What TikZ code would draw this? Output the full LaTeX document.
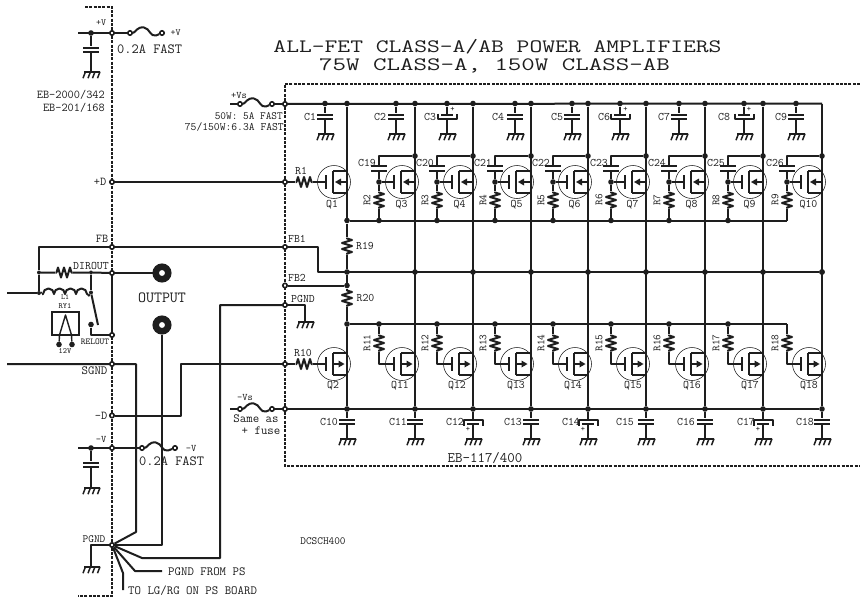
\documentclass[tikz,border=0pt]{standalone}
\definecolor{ink}{HTML}{1E1E1E}
\newcommand\sz[1]{\ttfamily\fontsize{#1}{#1}\selectfont}
\tikzset{
  wire/.style={draw=ink,line width=2pt,line join=round},
  thinw/.style={draw=ink,line width=1.5pt,line join=round},
  frame/.style={draw=ink,line width=1.15pt,dash pattern=on 3pt off 1.3pt},
  jdot/.style={circle,fill=ink,inner sep=0pt,minimum size=5.6pt},
  ring/.style={circle,draw=ink,line width=1.6pt,fill=white,inner sep=0pt,minimum size=4.4pt},
  donut/.style={circle,draw=ink,line width=6.5pt,fill=white,inner sep=0pt,minimum size=12.5pt},
  fetc/.style={circle,draw=ink,line width=.55pt,inner sep=0pt,minimum size=33pt},
  tx/.style={inner sep=0pt,text=ink,font=\sz{#1}},
  tx/.default=10,
  resv/.style={inner sep=0pt,minimum width=15pt,minimum height=17pt,path picture={
    \draw[wire,shift={(path picture bounding box.center)}] (0,-8.5)--(0,-7.5)--(5,-6)--(-5,-3)--(5,0)--(-5,3)--(5,6)--(0,7.5)--(0,8.5);}},
  resh/.style={inner sep=0pt,minimum width=17pt,minimum height=15pt,path picture={
    \draw[wire,shift={(path picture bounding box.center)}] (-8.5,0)--(-7.5,0)--(-6,-5)--(-3,5)--(0,-5)--(3,5)--(6,-5)--(7.5,0)--(8.5,0);}},
  capv/.style={inner sep=0pt,minimum width=20pt,minimum height=7pt,path picture={
    \begin{scope}[shift={(path picture bounding box.center)}]
    \draw[wire] (-8,-2.2)--(8,-2.2) (-8,2.2)--(8,2.2) (0,-3.5)--(0,-2.2) (0,2.2)--(0,3.5);
    \end{scope}}},
  polu/.style={inner sep=0pt,minimum width=24pt,minimum height=10pt,path picture={
    \begin{scope}[shift={(path picture bounding box.center)}]
    \draw[wire] (-6,-1.6)--(6,-1.6) (0,-5)--(0,-1.6) (0,2)--(0,5);
    \draw[wire] (-9.5,-3.5)--(-9.5,2)--(9.5,2)--(9.5,-3.5);
    \end{scope}}},
  pold/.style={inner sep=0pt,minimum width=24pt,minimum height=10pt,path picture={
    \begin{scope}[shift={(path picture bounding box.center)}]
    \draw[wire] (-6,1.6)--(6,1.6) (0,5)--(0,1.6) (0,-2)--(0,-5);
    \draw[wire] (-9.5,3.5)--(-9.5,-2)--(9.5,-2)--(9.5,3.5);
    \end{scope}}},
  gndn/.style={anchor=north,inner sep=0pt,minimum width=24pt,minimum height=9pt,path picture={
    \begin{scope}[shift={(path picture bounding box.center)}]
    \draw[wire] (0,-4.5)--(0,-3.2) (-7,-3.2)--(9,-3.2);
    \draw[thinw] (-5.5,-3)--(-8,3.5) (-0.5,-3)--(-3,3.5) (4,-3)--(1.5,3.5) (9,-3)--(6.5,3.5);
    \end{scope}}},
  indn/.style={inner sep=0pt,minimum width=46pt,minimum height=12pt,path picture={
    \begin{scope}[shift={(path picture bounding box.center)}]
    \draw[wire] (-23,4)--(-22,4) arc[start angle=180,end angle=360,radius=5.5] arc[start angle=180,end angle=360,radius=5.5] arc[start angle=180,end angle=360,radius=5.5] arc[start angle=180,end angle=360,radius=5.5]--(23,4);
    \end{scope}}},
}
\newcommand\fusewire[2]{\draw[wire] (#1.east) .. controls ([shift={(6,-1)}]#1.center) and ([shift={(7,-6.5)}]#1.center) .. ([shift={(14,-5.5)}]#1.center) .. controls ([shift={(20,-4.5)}]#1.center) and ([shift={(20,4)}]#1.center) .. ([shift={(26,2.5)}]#1.center) -- (#2);}
% name, cx, cy
\newcommand\fetbody[3]{%
  \node[fetc] (#1) at (#2,#3) {};
  \coordinate (#1g) at (#2-8,#3);
  \coordinate (#1ct) at (#2-1,#3-11);
  \coordinate (#1cb) at (#2-1,#3+11);
  \coordinate (#1dt) at (#2+13,#3-11);
  \coordinate (#1db) at (#2+13,#3+11);
  \coordinate (#1m) at (#2+13,#3);
  \draw[wire] (#2-8,#3-7)--(#2-8,#3+7);
  \draw[wire,line width=2.2pt] (#1ct)--(#1cb);
  \draw[wire] (#1ct)--(#1dt) (#1cb)--(#1db);}
\newcommand\fetN[3]{\fetbody{#1}{#2}{#3}\draw[wire] (#1m)--(#2+5,#3);\fill[ink] (#2+1,#3)--(#2+7,#3-3.5)--(#2+7,#3+3.5)--cycle;}
\newcommand\fetP[3]{\fetbody{#1}{#2}{#3}\draw[wire] (#2-1,#3)--(#2+5,#3);\fill[ink] (#2+10.5,#3)--(#2+4.5,#3-3.5)--(#2+4.5,#3+3.5)--cycle;}
\begin{document}
\begin{tikzpicture}[x=1pt,y=-1pt]
\useasboundingbox (0,0) rectangle (860,597);
\fill[white] (0,0) rectangle (860,597);
% frames
\coordinate (fa) at (85,7); \coordinate (fb) at (112,7); \coordinate (fc) at (112,596); \coordinate (fd) at (78,596);
\draw[frame] (fa)--(fb)--(fc)--(fd);
\coordinate (ga) at (860,84); \coordinate (gb) at (285,84); \coordinate (gc) at (285,466); \coordinate (gd) at (860,466);
\draw[frame] (ga)--(gb)--(gc)--(gd);
% title
\node[tx=22] (title1) at (497.5,46.5) {\scalebox{1.13}[.86]{ALL-FET CLASS-A/AB POWER AMPLIFIERS}};
\node[tx=22] (title2) at (494.5,66) {\scalebox{1.19}[.86]{75W CLASS-A, 150W CLASS-AB}};
\node[tx=14.5] (board) at (485,458) {EB-117/400};
\node[tx=11] (dcs) at (323,541) {DCSCH400};

% ---- terminals on the left frame
\node[ring] (Vp) at (112,33) {};
\node[ring] (Dp) at (112,182) {};
\node[ring] (FB) at (112,247) {};
\node[ring] (DIR) at (112,273) {};
\node[ring] (REL) at (112,335) {};
\node[ring] (SG) at (112,364) {};
\node[ring] (Dm) at (112,415.5) {};
\node[ring] (Vm) at (112,448) {};
\node[ring] (PG) at (112,545) {};
% ---- terminals on the right frame
\node[ring] (sVs) at (285,104) {};
\node[ring] (sD) at (285,182) {};
\node[ring] (sFB1) at (285,247) {};
\node[ring] (sFB2) at (285,285.5) {};
\node[ring] (sPG) at (285,305) {};
\node[ring] (sIn) at (285,364) {};
\node[ring] (sVm) at (285,409) {};
\draw[wire] (DIR)--(REL);

% +V supply
\coordinate (Vl) at (78,33);
\node[jdot] (Vd) at (91,33) {};
\node[ring] (Vf1) at (130,33) {};
\node[ring] (Vf2) at (162,33) {};
\draw[wire] (Vl)--(Vp)--(Vf1);
\fusewire{Vf1}{Vf2}
\node[capv] (Vc) at (91,50) {};
\node[gndn] (Vg) at (91,70) {};
\draw[wire] (Vd)--(Vc)--(Vg);
\node[tx=9.5] (tVa) at (101,23) {+V};
\node[tx=9.5] (tVb) at (175.5,33) {+V};
\node[tx=14,anchor=west] (tVf) at (117,49) {0.2A FAST};
\node[tx=12,anchor=east] (tEa) at (105,95) {EB-2000/342};
\node[tx=12,anchor=east] (tEb) at (105,108) {EB-201/168};

% +Vs fuse
\coordinate (Vsl) at (230,104);
\node[ring] (Vsf1) at (240,104) {};
\node[ring] (Vsf2) at (272,104) {};
\draw[wire] (Vsl)--(Vsf1) (Vsf2)--(sVs);
\fusewire{Vsf1}{Vsf2}
\node[tx=10] (tVs) at (239,95) {+Vs};
\node[tx=11,anchor=east] (tf1) at (283,116) {50W: 5A FAST};
\node[tx=11.3,anchor=east] (tf2) at (284,127) {75/150W:6.3A FAST};

% -Vs fuse
\coordinate (Vml) at (230,409);
\node[ring] (Vmf1) at (240,409) {};
\node[ring] (Vmf2) at (272,409) {};
\draw[wire] (Vml)--(Vmf1) (Vmf2)--(sVm);
\fusewire{Vmf1}{Vmf2}
\node[tx=10] (tVms) at (245,397) {-Vs};
\node[tx=12.5] (tSa) at (256,419) {Same as};
\node[tx=12.5] (tSb) at (261,430.5) {+ fuse};

% left-side labels
\node[tx=12] (tDp) at (100,182) {+D};
\node[tx=12] (tFB) at (102,239) {FB};
\node[tx=11.5] (tDI) at (91,266) {DIROUT};
\node[tx=9] (tRE) at (95,342) {RELOUT};
\node[tx=12.5] (tSG) at (94.5,370.5) {SGND};
\node[tx=12] (tDm) at (101,415.5) {-D};
\node[tx=10] (tVmA) at (101,439) {-V};
\node[tx=10] (tVmB) at (191,448) {-V};
\node[tx=11] (tPG) at (94,539) {PGND};

% FB / output network
\draw[wire] (FB)--(sFB1);
\coordinate (inl) at (7,293);
\coordinate (fbc) at (39,247);
\node[jdot,minimum size=4pt] (n1) at (39,272.5) {};
\node[jdot,minimum size=4pt] (n2) at (39,293) {};
\draw[wire] (FB)--(fbc)--(n1)--(n2)--(inl);
\node[resh] (Rd) at (64,272.5) {};
\node[jdot,minimum size=4pt] (n3) at (91,272.5) {};
\draw[wire] (n1)--(Rd)--(n3)--(DIR);
\node[indn] (L1) at (65,290) {};
\node[jdot,minimum size=4pt] (n4) at (91,292.5) {};
\draw[wire] (n2)--(L1) (L1.south east)--(n4);
\draw[wire] (n3)--(n4);
\node[jdot] (n5) at (91,324.5) {};
\coordinate (n6) at (91,335);
\draw[wire] (n5)--(n6)--(REL);
\coordinate (swe) at (98,325);
\draw[wire] (n4)--(swe);
\node[tx=7.5] (tL1) at (65,297) {L1};
\node[tx=8] (tRY) at (65,306.5) {RY1};
\node[tx=8] (t12) at (65,351) {12V};
\node[draw=ink,line width=1.5pt,inner sep=0pt,minimum width=27pt,minimum height=23pt] (RY) at (65.5,323.5) {};
\node[jdot] (ry1) at (59,344.5) {};
\node[jdot] (ry2) at (72,344.5) {};
\coordinate (ryt) at (65.5,315);
\coordinate (ryl) at (59.5,335);
\coordinate (ryr) at (71.5,335);
\draw[wire,line width=1.4pt] (ry1)--(ryl)--(ryt)--(ryr)--(ry2);
\node[donut] (Out1) at (162,273) {};
\node[donut] (Out2) at (162,325) {};
\draw[wire] (DIR)--(Out1);
\node[tx=15.5] (tOut) at (162,298) {OUTPUT};

% -V supply
\coordinate (Vml2) at (78,448);
\node[jdot] (Vmd) at (91,448) {};
\node[ring] (Vmg1) at (142,448) {};
\node[ring] (Vmg2) at (175,448) {};
\draw[wire] (Vml2)--(Vm)--(Vmg1);
\fusewire{Vmg1}{Vmg2}
\node[capv] (Vmc) at (91,465) {};
\node[gndn] (Vmgn) at (91,486) {};
\draw[wire] (Vmd)--(Vmc)--(Vmgn);
\node[tx=14,anchor=west] (tVmf) at (139,461) {0.2A FAST};

% long returns to PGND
\coordinate (sga) at (7,364);
\coordinate (sgb) at (136,364);
\coordinate (sgc) at (136,532);
\draw[wire] (sga)--(SG)--(sgb)--(sgc)--(PG);
\coordinate (oc) at (162,545);
\draw[wire] (Out2)--(oc)--(PG);
\coordinate (dmb) at (181,415.5);
\coordinate (dma) at (181,364);
\draw[wire] (Dm)--(dmb)--(dma)--(sIn);
\coordinate (pga) at (220,305);
\coordinate (pgb) at (220,558);
\coordinate (pgc) at (142,558);
\draw[wire] (sPG)--(pga)--(pgb)--(pgc)--(PG);
\coordinate (ps1) at (135,571);
\coordinate (ps2) at (162,571);
\draw[wire] (PG)--(ps1)--(ps2);
\coordinate (lg1) at (123,573);
\coordinate (lg2) at (123,590);
\draw[wire] (PG)--(lg1)--(lg2);
\node[tx=12.5,anchor=west] (tPS) at (168,571.5) {PGND FROM PS};
\node[tx=12.5,anchor=west] (tLG) at (128,591) {TO LG/RG ON PS BOARD};
\coordinate (pgl) at (91,545);
\node[gndn] (PGg) at (91,565) {};
\draw[wire] (PG)--(pgl)--(PGg);

% right PGND ground
\coordinate (spc) at (305,305);
\node[gndn] (sPGg) at (305,320) {};
\draw[wire] (sPG)--(spc)--(sPGg);
\node[tx=11.5] (tsF1) at (297,239) {FB1};
\node[tx=11.5] (tsF2) at (297,278) {FB2};
\node[tx=11.5] (tsPG) at (303,299) {PGND};

% Top rail capacitors: x, name, label x, style
\foreach \x/\n/\lx/\sty in {325/C1/310/capv,396/C2/380/capv,447/C3/430/polu,515/C4/498/capv,572/C5/557/capv,620/C6/604/polu,679/C7/664/capv,744/C8/724/polu,796/C9/781/capv}{
  \node[jdot] (tj\n) at (\x,103.5) {};
  \node[\sty] (\n) at (\x,117) {};
  \node[gndn] (g\n) at (\x,132) {};
  \draw[wire] (tj\n)--(\n)--(g\n);
  \node[tx=11.5] (l\n) at (\lx,117) {\n};
}
\foreach \x/\n/\lx/\sty in {347/C10/329/capv,415/C11/398/capv,473/C12/455/pold,531/C13/513/capv,588/C14/571/pold,646/C15/625/capv,705/C16/686/capv,763/C17/746/pold,822/C18/805/capv}{
  \node[jdot] (bj\n) at (\x,409) {};
  \node[\sty] (\n) at (\x,422) {};
  \node[gndn] (g\n) at (\x,437) {};
  \draw[wire] (bj\n)--(\n)--(g\n);
  \node[tx=11.5] (l\n) at (\lx,422) {\n};
}
\foreach \p/\x/\y in {pa/452.5/109,pb/625.5/109,pc/749/109,pd/468/429,pe/583/429,pf/758/429}{
  \node[tx=8] (\p) at (\x,\y) {+};
}

% rails
\coordinate (topr) at (822,103.5);
\coordinate (rail1) at (787,220.5);
\coordinate (rail2) at (787,324);
\draw[wire] (sVs)--(topr);
\draw[wire] (sVm)--(bjC18);
\node[jdot] (tfb) at (822,272) {};
\coordinate (fb1c) at (318,247);
\coordinate (fb1d) at (318,272);
\draw[wire] (sFB1)--(fb1c)--(fb1d)--(tfb);

% Q1 / Q2 column
\fetN{Q1}{334}{182}
\fetP{Q2}{334}{364}
\node[jdot] (t347) at (347,103.5) {};
\node[jdot] (u347) at (347,220.5) {};
\node[jdot] (m347) at (347,272) {};
\node[jdot] (f347) at (347,285.5) {};
\node[jdot] (l347) at (347,324) {};
\node[resv] (R19) at (347,246) {};
\node[resv] (R20) at (347,298) {};
\draw[wire] (t347)--(u347)--(R19)--(m347)--(f347)--(R20)--(l347)--(bjC10);
\draw[wire] (sFB2)--(f347);
\draw[wire] (u347)--(rail1);
\draw[wire] (l347)--(rail2);
\node[resh] (R1) at (304,182) {};
\node[resh] (R10) at (304,364) {};
\draw[wire] (Dp)--(sD)--(R1)--(Q1g);
\draw[wire] (sIn)--(R10)--(Q2g);
\node[tx=11.5] (lR1) at (301,171) {R1};
\node[tx=11.5] (lR10) at (303,353) {R10};
\node[tx=11.5] (lR19) at (365,245.5) {R19};
\node[tx=11.5] (lR20) at (365.5,298) {R20};
\node[tx=11.5] (lQ1) at (332,205) {Q1};
\node[tx=11.5] (lQ2) at (333,386) {Q2};

% output stages: column, fet centre, resistor x, numbers
\foreach \c/\cx/\rx/\qa/\ca/\ra/\qb/\rb/\qbl/\bc in {415/402/379/Q3/C19/R2/Q11/R11/400/C11,473/460/437/Q4/C20/R3/Q12/R12/457/C12,531/517/495/Q5/C21/R4/Q13/R13/516/C13,588/575/553/Q6/C22/R5/Q14/R14/573/C14,646/633/611/Q7/C23/R6/Q15/R15/633/C15,705/692/669/Q8/C24/R7/Q16/R16/692/C16,763/750/728/Q9/C25/R8/Q17/R17/750/C17,822/809/787/Q10/C26/R9/Q18/R18/809/C18}{
  % columns
  \ifnum\c=822 \draw[wire] (topr)--(bj\bc); \else
  \node[jdot] (tc\c) at (\c,103.5) {};
  \draw[wire] (tc\c)--(bj\bc); \fi
  \node[jdot] (mc\c) at (\c,272) {};
  % upper device
  \fetN{\qa}{\cx}{182}
  \node[jdot] (g\qa) at (\rx,182) {};
  \node[capv] (\ca) at (\rx,168.5) {};
  \coordinate (k\qa) at (\rx,156);
  \node[jdot] (d\qa) at (\c,156) {};
  \node[resv] (\ra) at (\rx,200) {};
  \ifnum\c=822 \coordinate (u\qa) at (\rx,220.5); \else \node[jdot] (u\qa) at (\rx,220.5) {}; \fi
  \draw[wire] (d\qa)--(k\qa)--(\ca)--(g\qa)--(\ra)--(u\qa);
  \draw[wire] (g\qa)--(\qa g);
  \node[tx=11.5] (l\ca) at (\rx-12,162.5) {\ca};
  \node[tx=11,rotate=90] (l\ra) at (\rx-12,200) {\ra};
  \node[tx=11.5] (l\qa) at (\cx-.5,205) {\qa};
  % lower device
  \fetP{\qb}{\cx}{364}
  \ifnum\c=822 \coordinate (u\qb) at (\rx,324); \else \node[jdot] (u\qb) at (\rx,324) {}; \fi
  \node[resv] (\rb) at (\rx,343) {};
  \coordinate (g\qb) at (\rx,364);
  \draw[wire] (u\qb)--(\rb)--(g\qb)--(\qb g);
  \node[tx=11,rotate=90] (l\rb) at (\rx-12,343) {\rb};
  \node[tx=11.5] (l\qb) at (\qbl,386) {\qb};
}
\end{tikzpicture}
\end{document}
